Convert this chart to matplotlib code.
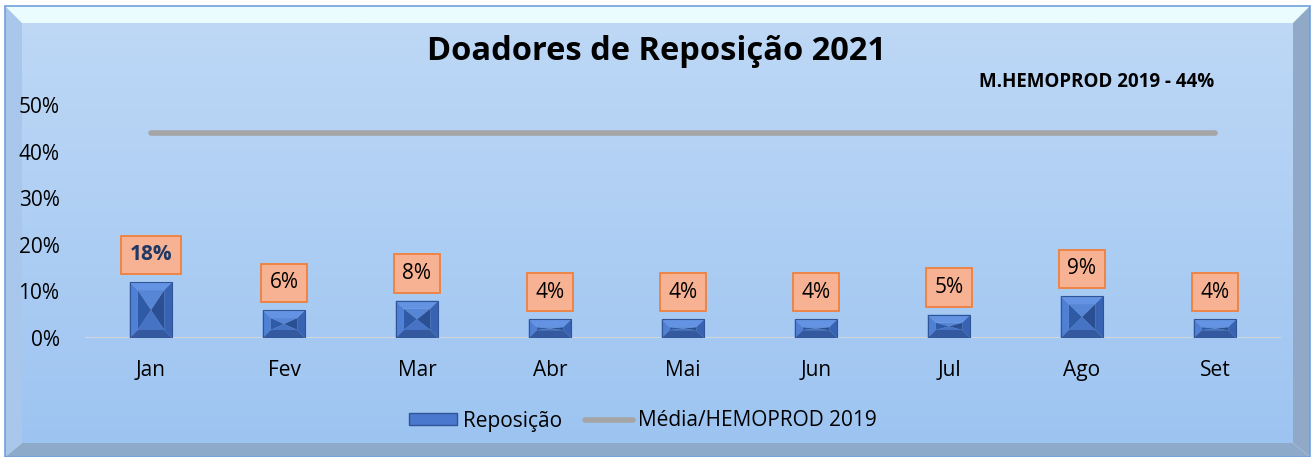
import matplotlib.pyplot as plt
import numpy as np
from matplotlib.patches import Polygon, Rectangle
from matplotlib.lines import Line2D

plt.rcParams['font.family'] = ['Open Sans', 'DejaVu Sans']

meses = ['Jan', 'Fev', 'Mar', 'Abr', 'Mai', 'Jun', 'Jul', 'Ago', 'Set']
reposicao = [12, 6, 8, 4, 4, 4, 5, 9, 4]
rotulos = ['18%', '6%', '8%', '4%', '4%', '4%', '5%', '9%', '4%']
media_2019 = [44, 44, 44, 44, 44, 44, 44, 44, 44]
yticks = [0, 10, 20, 30, 40, 50]

W, H = 1311, 457
fig = plt.figure(figsize=(W / 100, H / 100), dpi=100)
fig.patch.set_facecolor('white')

# --------- moldura com bisel (fundo) ---------
bg = fig.add_axes([0, 0, 1, 1])
bg.set_xlim(0, W)
bg.set_ylim(H, 0)
bg.axis('off')
x0, y0, x1, y1 = 5, 6, 1310, 457
b = 17
grad = np.linspace(0, 1, 256).reshape(-1, 1)
top_c = np.array([190, 216, 246]) / 255
bot_c = np.array([157, 196, 241]) / 255
img = top_c + (bot_c - top_c) * grad[..., None].reshape(256, 1, 1)
img = np.repeat(img, 2, axis=1)
bg.imshow(img, extent=[x0 + b, x1 - b, y1 - b + 3, y0 + b], aspect='auto', zorder=0)
bg.add_patch(Polygon([(x0, y0), (x1, y0), (x1 - b, y0 + b), (x0 + b, y0 + b)],
                     closed=True, facecolor='#eafcfe', edgecolor='none', zorder=1))
bg.add_patch(Polygon([(x0, y0), (x0 + b, y0 + b), (x0 + b, y1 - b + 3), (x0, y1)],
                     closed=True, facecolor='#a9c7ea', edgecolor='none', zorder=1))
bg.add_patch(Polygon([(x1, y0), (x1 - b, y0 + b), (x1 - b, y1 - b + 3), (x1, y1)],
                     closed=True, facecolor='#8fa9c6', edgecolor='none', zorder=1))
bg.add_patch(Polygon([(x0, y1), (x0 + b, y1 - b + 3), (x1 - b, y1 - b + 3), (x1, y1)],
                     closed=True, facecolor='#8eaacb', edgecolor='none', zorder=1))
bg.add_patch(Rectangle((x0, y0), x1 - x0, y1 - y0, fill=False,
                       edgecolor='#6fa0dc', linewidth=1.2, zorder=2))

# --------- grafico ---------
ax = fig.add_axes([84.5 / W, 119 / H, 1197 / W, 233 / H])
ax.patch.set_alpha(0)
x = np.arange(len(meses))
ax.set_xlim(-0.5, len(meses) - 0.5)
ax.set_ylim(0, 50)
for s in ax.spines.values():
    s.set_visible(False)
ax.axhline(0, color='#d9d9d9', linewidth=2, zorder=1)

ax.plot(x, media_2019, color='#a5a5a5', linewidth=4, solid_capstyle='round', zorder=2)

largura = 0.32
fig.canvas.draw()
to_px = ax.transData.transform
to_dt = ax.transData.inverted().transform


def barra_bisel(xc, h):
    L, B = to_px((xc - largura / 2, 0))
    R, T = to_px((xc + largura / 2, h))
    i = 8
    iv = min(8, (T - B) / 2 - 1.5)

    def poly(pts, cor):
        ax.add_patch(Polygon(to_dt(np.array(pts)), closed=True, facecolor=cor,
                             edgecolor='none', zorder=3))
    poly([(L, T), (R, T), (R - i, T - iv), (L + i, T - iv)], '#6393e2')
    poly([(L, B), (L, T), (L + i, T - iv), (L + i, B + iv)], '#4f80d6')
    poly([(R, B), (R, T), (R - i, T - iv), (R - i, B + iv)], '#3863b3')
    poly([(L, B), (R, B), (R - i, B + iv), (L + i, B + iv)], '#34599f')
    cx, cy = (L + R) / 2, (T + B) / 2
    poly([(L + i, T - iv), (R - i, T - iv), (cx, cy)], '#5886d6')
    poly([(L + i, B + iv), (R - i, B + iv), (cx, cy)], '#4673c4')
    poly([(L + i, T - iv), (L + i, B + iv), (cx, cy)], '#2f5aa6')
    poly([(R - i, T - iv), (R - i, B + iv), (cx, cy)], '#2b4f93')
    ax.add_patch(Polygon(to_dt(np.array([(L, B), (R, B), (R, T), (L, T)])), closed=True,
                         fill=False, edgecolor='#2f5597', linewidth=0.8, zorder=4))


for xi, v in zip(x, reposicao):
    barra_bisel(xi, v)

for xi, v, r in zip(x, reposicao, rotulos):
    destaque = r == rotulos[0]
    ax.annotate(r, (xi, v), xytext=(0, 12), textcoords='offset points',
                ha='center', va='bottom', fontsize=15,
                fontweight='bold' if destaque else 'normal',
                color='#1f3864' if destaque else 'black',
                bbox=dict(boxstyle='square,pad=0.42', facecolor='#f7b193',
                          edgecolor='#f0803c', linewidth=1.3), zorder=5)

ax.set_xticks(x)
ax.set_xticklabels(meses)
ax.set_yticks(yticks)
ax.set_yticklabels([f'{t}%' for t in yticks])
ax.tick_params(axis='both', length=0, labelsize=15)
ax.tick_params(axis='x', pad=16)
ax.tick_params(axis='y', pad=18)

fig.text(656 / W, 1 - 51 / H, 'Doadores de Reposição 2021', ha='center', va='center',
         fontsize=23.5, fontweight='bold')
fig.text(1097 / W, 1 - 82 / H, 'M.HEMOPROD 2019 - 44%', ha='center', va='center',
         fontsize=13.5, fontweight='bold')

handles = [Rectangle((0, 0), 1, 1, facecolor='#4a78cf', edgecolor='#2f5597'),
           Line2D([0], [0], color='#a5a5a5', linewidth=4, solid_capstyle='round')]
fig.legend(handles, ['Reposição', 'Média/HEMOPROD 2019'], loc='center',
           bbox_to_anchor=(643 / W, 1 - 421 / H), ncol=2, frameon=False,
           fontsize=15, handlelength=2.3, handleheight=0.55, handletextpad=0.25,
           columnspacing=1.1)

fig.savefig('out.png', dpi=100)
